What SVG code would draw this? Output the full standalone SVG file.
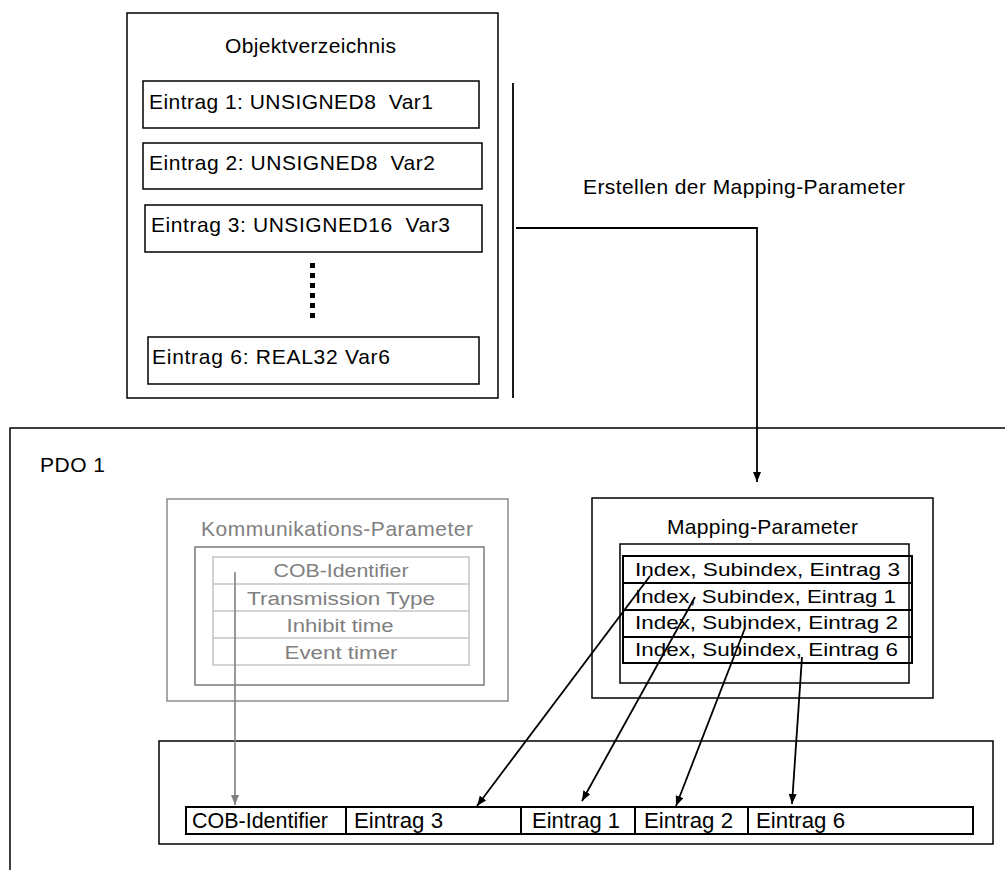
<svg xmlns="http://www.w3.org/2000/svg" width="1005" height="870" viewBox="0 0 1005 870">
<style>
text{font-family:"Liberation Sans",Arial,sans-serif;fill:#000;white-space:pre}
.t21{font-size:21px}
.g{fill:#808080}
.box{fill:none;stroke:#000;stroke-width:1.5}
.gbox{fill:none;stroke:#8c8c8c;stroke-width:1.5}
.gin{fill:none;stroke:#7a7a7a;stroke-width:1.5}
.gtab{fill:none;stroke:#c4c4c4;stroke-width:1.5}
.conn{fill:none;stroke:#000;stroke-width:1.8}
.gconn{fill:none;stroke:#808080;stroke-width:1.6}
.tab{fill:none;stroke:#000;stroke-width:2}
</style>
<defs>
<marker id="ah" viewBox="0 0 10 8" refX="10" refY="4" markerWidth="10" markerHeight="8" markerUnits="userSpaceOnUse" orient="auto"><path d="M0,0 L10,4 L0,8 z" fill="#000"/></marker>
<marker id="ahg" viewBox="0 0 10 8" refX="10" refY="4" markerWidth="10" markerHeight="8" markerUnits="userSpaceOnUse" orient="auto"><path d="M0,0 L10,4 L0,8 z" fill="#808080"/></marker>
</defs>

<g id="objektverzeichnis">
<rect class="box" x="127" y="13" width="371" height="385" stroke="#222"/>
<text class="t21" x="225" y="53" textLength="171">Objektverzeichnis</text>
<rect class="box" x="143" y="81" width="336" height="47"/>
<text class="t21" x="149" y="109" textLength="284">Eintrag 1: UNSIGNED8  Var1</text>
<rect class="box" x="143" y="143" width="339" height="46"/>
<text class="t21" x="149" y="170" textLength="286">Eintrag 2: UNSIGNED8  Var2</text>
<rect class="box" x="145" y="205" width="337" height="47"/>
<text class="t21" x="151" y="232" textLength="299">Eintrag 3: UNSIGNED16  Var3</text>
<line x1="312.5" y1="263" x2="312.5" y2="318" stroke="#000" stroke-width="5" stroke-dasharray="5 5"/>
<rect class="box" x="148" y="337" width="331" height="47"/>
<text class="t21" x="152" y="364" textLength="238">Eintrag 6: REAL32 Var6</text>
</g>

<g id="label-erstellen">
<text class="t21" x="583" y="194" textLength="322">Erstellen der Mapping-Parameter</text>
</g>

<g id="pdo1">
<path class="box" d="M10,872 V428 H1007" stroke="#222"/>
<text class="t21" x="40" y="472" textLength="65">PDO 1</text>
</g>

<g id="kommunikations-parameter">
<rect class="gbox" x="167" y="499" width="341" height="202"/>
<text class="t21 g" x="201" y="536" textLength="272">Kommunikations-Parameter</text>
<rect class="gin" x="195" y="547" width="289" height="138"/>
<rect class="gtab" x="213" y="557" width="256" height="108"/>
<line class="gtab" x1="213" y1="584" x2="469" y2="584"/>
<line class="gtab" x1="213" y1="611" x2="469" y2="611"/>
<line class="gtab" x1="213" y1="638" x2="469" y2="638"/>
<g font-size="18" text-anchor="middle">
<text class="g" x="341" y="577" textLength="135" lengthAdjust="spacingAndGlyphs">COB-Identifier</text>
<text class="g" x="341" y="605" textLength="188" lengthAdjust="spacingAndGlyphs">Transmission Type</text>
<text class="g" x="340" y="632" textLength="107" lengthAdjust="spacingAndGlyphs">Inhibit time</text>
<text class="g" x="341" y="659" textLength="113" lengthAdjust="spacingAndGlyphs">Event timer</text>
</g>
</g>

<g id="mapping-parameter">
<rect class="box" x="592" y="498" width="341" height="200" stroke="#222"/>
<text class="t21" x="667" y="534" textLength="191">Mapping-Parameter</text>
<rect class="box" x="620" y="544" width="289" height="139"/>
<rect class="tab" x="623" y="556" width="289" height="107"/>
<line class="tab" x1="623" y1="583" x2="912" y2="583"/>
<line class="tab" x1="623" y1="610" x2="912" y2="610"/>
<line class="tab" x1="623" y1="637" x2="912" y2="637"/>
<g font-size="19">
<text x="635" y="576" textLength="265" lengthAdjust="spacingAndGlyphs">Index, Subindex, Eintrag 3</text>
<text x="635" y="603" textLength="261" lengthAdjust="spacingAndGlyphs">Index, Subindex, Eintrag 1</text>
<text x="635" y="629" textLength="263" lengthAdjust="spacingAndGlyphs">Index, Subindex, Eintrag 2</text>
<text x="635" y="656" textLength="263" lengthAdjust="spacingAndGlyphs">Index, Subindex, Eintrag 6</text>
</g>
</g>

<g id="pdo-frame">
<rect class="box" x="159" y="741" width="834" height="103" stroke="#222"/>
<rect class="tab" x="186" y="807" width="787" height="27"/>
<line class="tab" x1="346" y1="807" x2="346" y2="834"/>
<line class="tab" x1="521" y1="807" x2="521" y2="834"/>
<line class="tab" x1="635" y1="807" x2="635" y2="834"/>
<line class="tab" x1="748" y1="807" x2="748" y2="834"/>
<g font-size="22">
<text x="192" y="828" textLength="136" lengthAdjust="spacingAndGlyphs">COB-Identifier</text>
<text x="354" y="828" textLength="89" lengthAdjust="spacingAndGlyphs">Eintrag 3</text>
<text x="532" y="828" textLength="88" lengthAdjust="spacingAndGlyphs">Eintrag 1</text>
<text x="644" y="828" textLength="89" lengthAdjust="spacingAndGlyphs">Eintrag 2</text>
<text x="756" y="828" textLength="89" lengthAdjust="spacingAndGlyphs">Eintrag 6</text>
</g>
</g>

<g id="connectors">
<line class="conn" x1="513" y1="83" x2="513" y2="398"/>
<path class="conn" d="M516,228 H757 V482" marker-end="url(#ah)"/>
<line class="gconn" x1="235" y1="572" x2="235" y2="805" marker-end="url(#ahg)"/>
<line class="conn" x1="650" y1="576" x2="477" y2="806" marker-end="url(#ah)"/>
<line class="conn" x1="695" y1="597" x2="582" y2="801" marker-end="url(#ah)"/>
<line class="conn" x1="745" y1="628" x2="676" y2="806" marker-end="url(#ah)"/>
<line class="conn" x1="802" y1="657" x2="792" y2="804" marker-end="url(#ah)"/>
</g>
</svg>
